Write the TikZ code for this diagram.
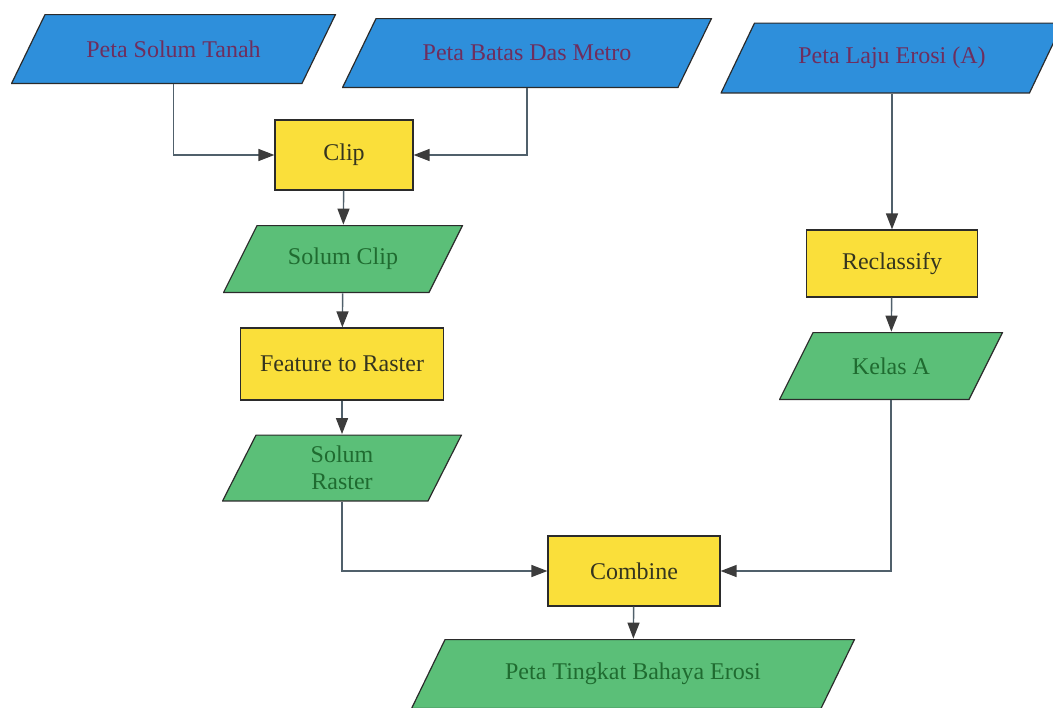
\documentclass[tikz,border=0pt]{standalone}
\usepackage{fontspec}
\setmainfont{Liberation Serif}
\usetikzlibrary{arrows.meta}
\definecolor{inblue}{HTML}{2E8FDB}
\definecolor{procyellow}{HTML}{FADF3A}
\definecolor{outgreen}{HTML}{5BBF78}
\definecolor{edgegrey}{HTML}{2B2B2B}
\definecolor{linkgrey}{HTML}{50606B}
\definecolor{tipgrey}{HTML}{3C3C3C}
\definecolor{inkpurple}{HTML}{6E2E5E}
\definecolor{inkgreen}{HTML}{1F6B30}
\definecolor{inkdark}{HTML}{35351F}

\begin{document}
\begin{tikzpicture}[x=0.5pt,y=-0.5pt,>={Triangle[length=8pt,width=6pt,color=tipgrey]},
  font=\fontsize{12}{13.5}\selectfont,
  para/.style={rectangle,inner sep=0pt,align=center,path picture={
    \filldraw[fill=#1,draw=edgegrey,line width=0.6pt]
      ([xshift=17pt,yshift=-0.3pt]path picture bounding box.north west)
      -- ([xshift=-0.3pt,yshift=-0.3pt]path picture bounding box.north east)
      -- ([xshift=-17pt,yshift=0.3pt]path picture bounding box.south east)
      -- ([xshift=0.3pt,yshift=0.3pt]path picture bounding box.south west) -- cycle;}},
  indata/.style={para=inblue,text=inkpurple},
  outdata/.style={para=outgreen,text=inkgreen},
  tool/.style={rectangle,draw=edgegrey,line width=0.6pt,fill=procyellow,text=inkdark,inner sep=0pt},
  link/.style={->,linkgrey,line width=0.7pt}]
  \useasboundingbox (0,0) rectangle (1053,707);

  \node[indata,minimum width=162.5pt,minimum height=35pt] (solum) at (173.5,49) {Peta Solum Tanah};
  \node[indata,minimum width=185pt,minimum height=35pt] (batas) at (527,53) {Peta Batas Das Metro};
  \node[indata,minimum width=171.5pt,minimum height=35.5pt] (laju) at (892,58) {Peta Laju Erosi (A)};

  \node[tool,minimum width=69pt,minimum height=35pt] (clip) at (344,155) {Clip};
  \node[outdata,minimum width=120pt,minimum height=34pt] (solumclip) at (343,259) {Solum Clip};
  \node[tool,minimum width=101.5pt,minimum height=36pt] (torast) at (342,364) {Feature to Raster};
  \node[outdata,minimum width=120pt,minimum height=33.5pt] (solumrast) at (342,468) {Solum\\Raster};

  \node[tool,minimum width=85.5pt,minimum height=33.5pt] (reclass) at (892,263.5) {Reclassify};
  \node[outdata,minimum width=112pt,minimum height=34pt] (kelas) at (891,366) {Kelas A};

  \node[tool,minimum width=86pt,minimum height=35pt] (combine) at (634,571) {Combine};
  \node[outdata,minimum width=222pt,minimum height=35pt] (tingkat) at (633,674) {Peta Tingkat Bahaya Erosi};

  \draw[link] (solum) |- (clip);
  \draw[link] (batas) |- (clip);
  \draw[link] (clip) -- (solumclip);
  \draw[link] (solumclip) -- (torast);
  \draw[link] (torast) -- (solumrast);
  \draw[link] (solumrast) |- (combine);
  \draw[link] (laju) -- (reclass);
  \draw[link] (reclass) -- (kelas);
  \draw[link] (kelas) |- (combine);
  \draw[link] (combine) -- (tingkat);
\end{tikzpicture}
\end{document}
